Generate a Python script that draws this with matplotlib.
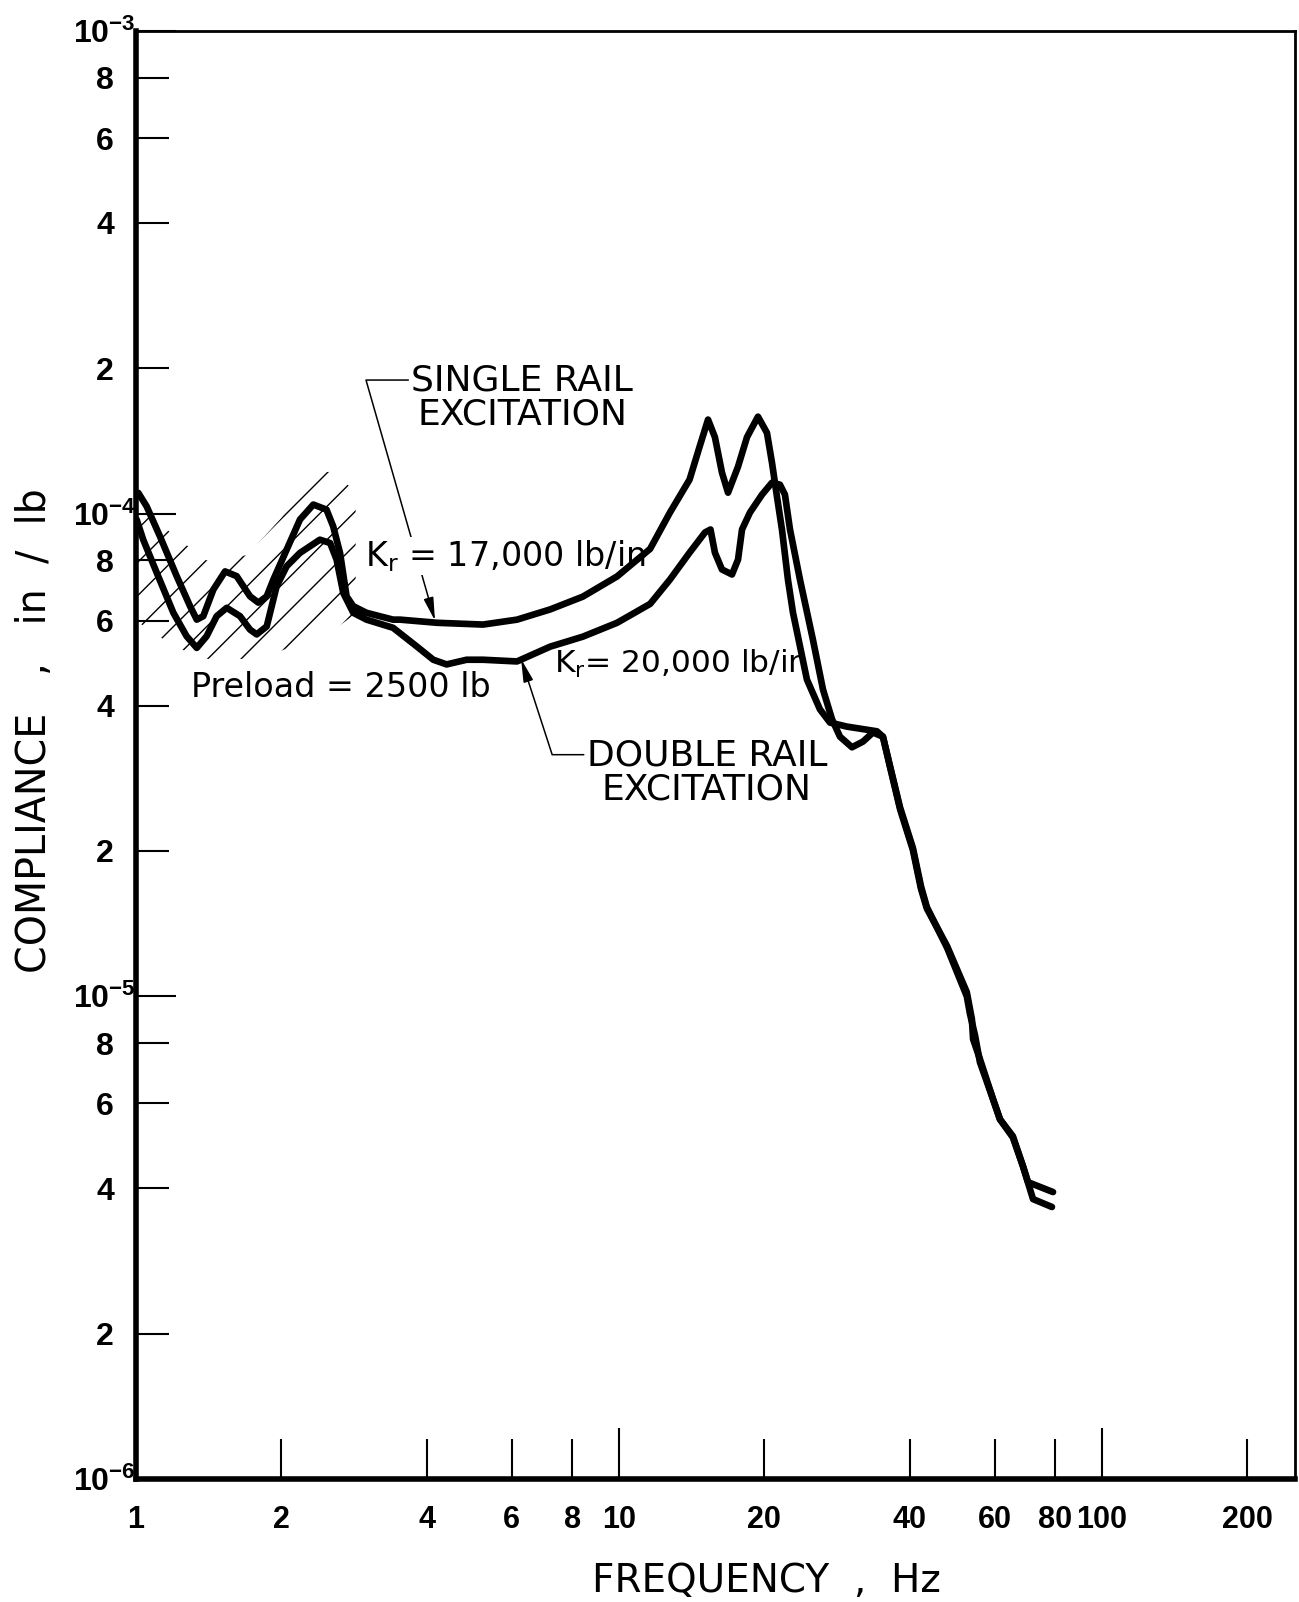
import matplotlib
matplotlib.use('Agg')
import matplotlib.pyplot as plt
from matplotlib.ticker import FixedLocator, FixedFormatter

plt.rcParams['font.family'] = ['DejaVu Sans']
plt.rcParams['mathtext.default'] = 'regular'
plt.rcParams['hatch.linewidth'] = 1.0

# ---------------- data ----------------
# Single rail excitation, Kr = 17,000 lb/in
single_f = [1.011, 1.052, 1.121, 1.214, 1.294, 1.336, 1.378, 1.446, 1.529, 1.616,
            1.722, 1.792, 1.865, 1.925, 2.051, 2.185, 2.329, 2.480, 2.560, 2.645,
            2.729, 2.817, 3.001, 3.406, 3.52, 4.20, 5.23, 6.15, 7.20, 8.42, 9.91,
            11.6, 12.75, 14.0, 14.7, 15.29, 15.8, 16.34, 16.82, 17.64, 18.41, 19.4,
            20.25, 20.74, 21.24, 21.75, 22.38, 22.92, 24.5, 26.07, 27.35, 29.65,
            34.2, 35.2, 36.4, 38.2, 40.6, 42.2, 43.4, 47.8, 52.5, 53.8, 54.1, 55.9,
            59.5, 61.5, 65.4, 68.6, 70.3, 79.2]
single_c = [1.104e-4, 1.035e-4, 8.97e-5, 7.42e-5, 6.43e-5, 6.03e-5, 6.13e-5, 6.96e-5,
            7.59e-5, 7.42e-5, 6.74e-5, 6.54e-5, 6.74e-5, 7.30e-5, 8.42e-5, 9.72e-5,
            1.044e-4, 1.019e-4, 9.41e-5, 8.29e-5, 6.74e-5, 6.43e-5, 6.23e-5, 6.03e-5,
            6.03e-5, 5.94e-5, 5.89e-5, 6.03e-5, 6.33e-5, 6.73e-5, 7.41e-5,
            8.45e-5, 1.005e-4, 1.176e-4, 1.38e-4, 1.566e-4, 1.44e-4, 1.216e-4, 1.105e-4,
            1.251e-4, 1.44e-4, 1.588e-4, 1.47e-4, 1.275e-4, 1.084e-4, 9.27e-5, 7.30e-5,
            6.24e-5, 4.53e-5, 3.93e-5, 3.69e-5, 3.62e-5, 3.54e-5, 3.45e-5, 2.99e-5,
            2.44e-5, 2.01e-5, 1.67e-5, 1.52e-5, 1.27e-5, 1.02e-5, 8.96e-6, 8.15e-6,
            7.41e-6, 6.12e-6, 5.56e-6, 5.13e-6, 4.45e-6, 4.12e-6, 3.93e-6]

# Double rail excitation, Kr = 20,000 lb/in
double_f = [1.003, 1.035, 1.104, 1.195, 1.273, 1.336, 1.400, 1.469, 1.541, 1.642,
            1.722, 1.778, 1.865, 1.955, 2.051, 2.185, 2.403, 2.523, 2.602, 2.686,
            2.817, 3.001, 3.406, 3.81, 4.126, 4.397, 4.837, 5.23, 6.15, 7.20, 8.42,
            9.91, 11.6, 12.75, 14.0, 15.07, 15.47, 15.8, 16.34, 17.14, 17.64, 17.98,
            18.67, 19.78, 20.74, 21.54, 22.06, 22.6, 23.7, 25.21, 26.45, 27.61, 28.68,
            30.37, 32.0, 33.57, 35.2, 36.4, 38.2, 40.6, 42.2, 43.4, 47.8, 52.5, 53.3,
            54.6, 55.9, 59.5, 61.5, 65.4, 68.6, 72.0, 78.8]
double_c = [9.72e-5, 8.83e-5, 7.54e-5, 6.23e-5, 5.57e-5, 5.27e-5, 5.57e-5, 6.13e-5,
            6.38e-5, 6.13e-5, 5.75e-5, 5.62e-5, 5.84e-5, 7.07e-5, 7.78e-5, 8.29e-5,
            8.83e-5, 8.69e-5, 8.03e-5, 6.85e-5, 6.23e-5, 6.03e-5, 5.80e-5, 5.31e-5,
            4.98e-5, 4.87e-5, 4.98e-5, 4.98e-5, 4.94e-5, 5.30e-5, 5.56e-5,
            5.94e-5, 6.50e-5, 7.30e-5, 8.30e-5, 9.14e-5, 9.27e-5, 8.30e-5, 7.66e-5,
            7.48e-5, 8.03e-5, 9.27e-5, 1.005e-4, 1.095e-4, 1.159e-4, 1.148e-4, 1.095e-4,
            9.27e-5, 7.30e-5, 5.48e-5, 4.32e-5, 3.75e-5, 3.45e-5, 3.28e-5, 3.37e-5,
            3.52e-5, 3.45e-5, 3.00e-5, 2.46e-5, 2.03e-5, 1.69e-5, 1.53e-5, 1.26e-5,
            1.00e-5, 9.20e-6, 8.30e-6, 7.30e-6, 6.12e-6, 5.56e-6, 5.10e-6, 4.45e-6,
            3.80e-6, 3.66e-6]

# hatched band at low frequency (preload region)
hatch_f = [1.0, 1.2, 1.4, 1.7, 2.0, 2.3, 2.6, 2.85]
hatch_lo = [6.0e-5, 5.3e-5, 5.0e-5, 5.0e-5, 5.2e-5, 5.5e-5, 5.8e-5, 6.2e-5]
hatch_hi = [1.05e-4, 9.0e-5, 8.0e-5, 8.2e-5, 9.8e-5, 1.22e-4, 1.22e-4, 1.10e-4]

# ticks
x_major = [1, 10, 100]
x_major_labels = ['1', '10', '100']
x_minor = [2, 4, 6, 8, 20, 40, 60, 80, 200]
x_minor_labels = ['2', '4', '6', '8', '20', '40', '60', '80', '200']
y_major = [1e-6, 1e-5, 1e-4, 1e-3]
y_major_labels = [r'$10^{-6}$', r'$10^{-5}$', r'$10^{-4}$', r'$10^{-3}$']
y_minor = [2e-6, 4e-6, 6e-6, 8e-6, 2e-5, 4e-5, 6e-5, 8e-5, 2e-4, 4e-4, 6e-4, 8e-4]
y_minor_labels = ['2', '4', '6', '8'] * 3

# ---------------- figure ----------------
fig = plt.figure(figsize=(12.99, 16.02), dpi=100)
ax = fig.add_axes([0.1047, 0.0768, 0.8922, 0.9039])
ax.set_xscale('log')
ax.set_yscale('log')
ax.set_xlim(1, 251)
ax.set_ylim(1e-6, 1e-3)

ax.fill_between(hatch_f, hatch_lo, hatch_hi, facecolor='none', edgecolor='black',
                hatch='/', linewidth=0, zorder=1)

ax.plot(single_f, single_c, color='black', lw=4.8, solid_joinstyle='round',
        solid_capstyle='round', zorder=4)
ax.plot(double_f, double_c, color='black', lw=4.8, solid_joinstyle='round',
        solid_capstyle='round', zorder=4)

# ticks
ax.xaxis.set_major_locator(FixedLocator(x_major))
ax.xaxis.set_major_formatter(FixedFormatter(x_major_labels))
ax.xaxis.set_minor_locator(FixedLocator(x_minor))
ax.xaxis.set_minor_formatter(FixedFormatter(x_minor_labels))
ax.yaxis.set_major_locator(FixedLocator(y_major))
ax.yaxis.set_major_formatter(FixedFormatter(y_major_labels))
ax.yaxis.set_minor_locator(FixedLocator(y_minor))
ax.yaxis.set_minor_formatter(FixedFormatter(y_minor_labels))

tick_font = 'Liberation Sans'
ax.tick_params(axis='x', which='major', direction='in', length=37, width=1.5,
               pad=19, labelsize=22, labelfontfamily=tick_font)
ax.tick_params(axis='x', which='minor', direction='in', length=29, width=1.5,
               pad=19, labelsize=22, labelfontfamily=tick_font)
ax.tick_params(axis='y', which='major', direction='in', length=29, width=1.5,
               pad=0, labelsize=23, labelfontfamily=tick_font)
ax.tick_params(axis='y', which='minor', direction='in', length=24, width=1.5,
               pad=16, labelsize=23, labelfontfamily=tick_font)
for lbl in ax.get_xticklabels(which='both') + ax.get_yticklabels(which='both'):
    lbl.set_fontweight('bold')

for side in ['left', 'bottom']:
    ax.spines[side].set_linewidth(4)
for side in ['top', 'right']:
    ax.spines[side].set_linewidth(2)

ax.set_xlabel('FREQUENCY  ,  Hz', fontsize=28)
ax.xaxis.set_label_coords(0.5436, -0.057)
ax.set_ylabel('COMPLIANCE   ,   in  /  lb', fontsize=28.5)
ax.yaxis.set_label_coords(-0.070, 0.517)

# annotations
arrow_kw = dict(arrowstyle='-|>,head_length=0.56,head_width=0.12', color='black',
                lw=1.1, mutation_scale=25, shrinkA=0, shrinkB=0)

ax.annotate('SINGLE RAIL\nEXCITATION', xy=(4.16, 6.0e-5), xytext=(6.3, 1.738e-4),
            ha='center', va='center', fontsize=26, linespacing=1.0, zorder=3,
            arrowprops=dict(connectionstyle='angle,angleA=180,angleB=-74,rad=0',
                            relpos=(0, 0.76), **arrow_kw))

ax.text(2.98, 8.18e-5, 'K$_{r}$ = 17,000 lb/in', ha='left', va='center', fontsize=24,
        zorder=3.5, bbox=dict(facecolor='white', edgecolor='none', pad=1))

ax.text(7.34, 4.87e-5, 'K$_{r}$= 20,000 lb/in', ha='left', va='center', fontsize=22.5,
        zorder=3.5)

ax.text(1.30, 4.36e-5, 'Preload = 2500 lb', ha='left', va='center', fontsize=24,
        zorder=3.5)

ax.annotate('DOUBLE RAIL\nEXCITATION', xy=(6.27, 5.0e-5), xytext=(15.2, 2.91e-5),
            ha='center', va='center', fontsize=26, linespacing=1.0, zorder=3,
            arrowprops=dict(connectionstyle='angle,angleA=180,angleB=-72,rad=0',
                            relpos=(0, 0.76), **arrow_kw))

fig.savefig('out.png', dpi=100)
